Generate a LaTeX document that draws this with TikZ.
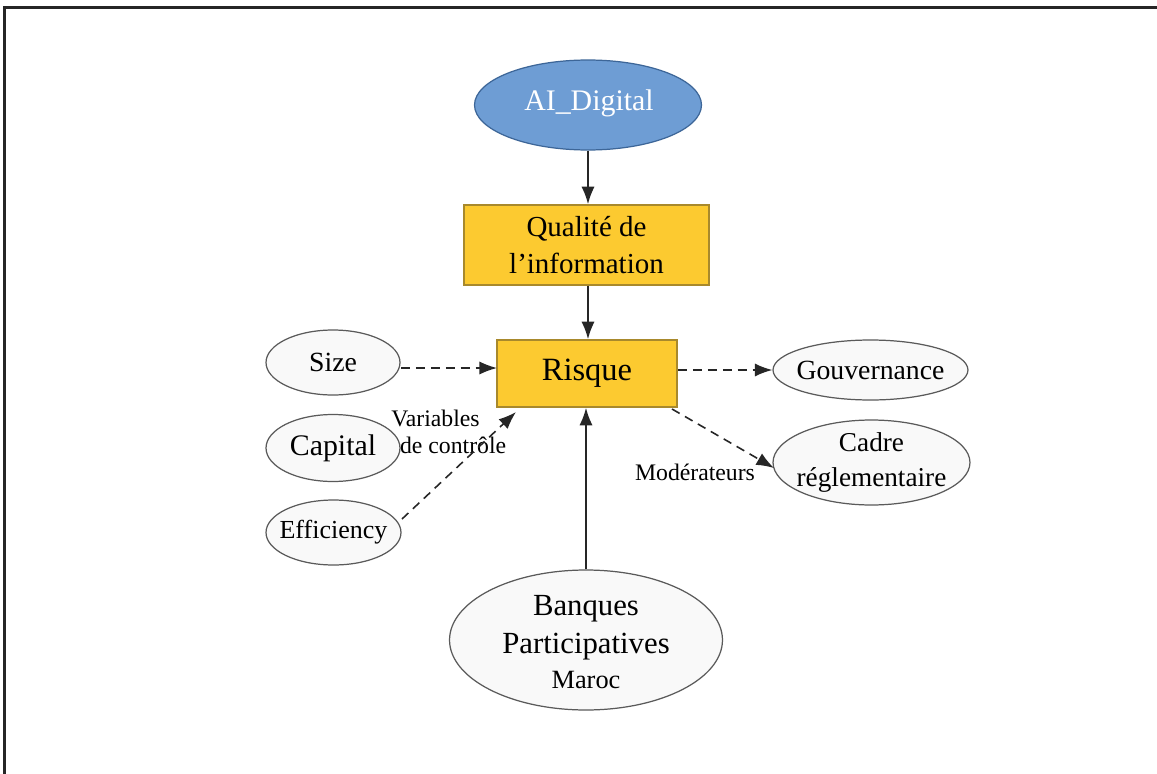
\documentclass[tikz,border=0pt]{standalone}
\usepackage{fontspec}
\setmainfont{Liberation Serif}
\usetikzlibrary{shapes.geometric,arrows.meta,calc}
\definecolor{aiblue}{HTML}{6E9DD4}
\definecolor{aiblueline}{HTML}{3D6698}
\definecolor{gold}{HTML}{FCCA30}
\definecolor{goldline}{HTML}{A8892C}
\definecolor{ellfill}{HTML}{F9F9F9}
\definecolor{ellline}{HTML}{5A5A5A}
\definecolor{arr}{HTML}{262626}
\tikzset{
  ovalnode/.style={ellipse, draw=ellline, line width=0.7pt, fill=ellfill, inner sep=0pt},
  ovaltext/.style={inner sep=0pt, align=center, text=black},
  boxnode/.style={rectangle, draw=goldline, line width=0.8pt, fill=gold, inner sep=0pt, align=center},
  solidarrow/.style={draw=arr, line width=1.1pt, -{Latex[length=10pt,width=7.5pt]}},
  dasharrow/.style={draw=arr, line width=0.9pt, dash pattern=on 5pt off 3.5pt, -{Latex[length=10pt,width=7.5pt]}},
  lbl/.style={inner sep=0pt, font=\fontsize{13.5pt}{15pt}\selectfont, align=left}
}
\begin{document}
\begin{tikzpicture}[x=0.02cm,y=-0.02cm]
\useasboundingbox (0,0) rectangle (1157,774);
\fill[white] (0,0) rectangle (1157,774);
\draw[line width=1.2pt, black!85] (4.5,774) -- (4.5,7.5) -- (1157,7.5);

\node[ellipse, draw=aiblueline, line width=0.7pt, fill=aiblue, minimum width=4.54cm, minimum height=1.8cm, inner sep=0pt] (ai) at (588,105) {};
\node[ovaltext, text=white, font=\fontsize{17pt}{20pt}\selectfont] (aitext) at (589,103) {AI\_Digital};

\node[boxnode, minimum width=4.9cm, minimum height=1.6cm, font=\fontsize{16.5pt}{21pt}\selectfont] (qual) at (586.5,245) {Qualité de\\l’information};

\node[boxnode, minimum width=3.6cm, minimum height=1.34cm, font=\fontsize{18.5pt}{22pt}\selectfont] (risque) at (587,373.5) {Risque};

\node[ovalnode, minimum width=2.68cm, minimum height=1.3cm] (size) at (333,362.5) {};
\node[ovaltext, font=\fontsize{15.8pt}{19pt}\selectfont] (sizetext) at (size) {Size};
\node[ovalnode, minimum width=2.68cm, minimum height=1.34cm] (capital) at (333,448) {};
\node[ovaltext, font=\fontsize{17pt}{20pt}\selectfont] (capitaltext) at (capital) {Capital};
\node[ovalnode, minimum width=2.7cm, minimum height=1.3cm] (eff) at (333.5,532.5) {};
\node[ovaltext, font=\fontsize{14.8pt}{18pt}\selectfont] (efftext) at (eff) {Efficiency};

\node[ovalnode, minimum width=3.9cm, minimum height=1.2cm] (gouv) at (870.5,370) {};
\node[ovaltext, font=\fontsize{15.8pt}{19pt}\selectfont] (gouvtext) at (gouv) {Gouvernance};
\node[ovalnode, minimum width=3.94cm, minimum height=1.7cm] (cadre) at (871.5,462.5) {};
\node[ovaltext, font=\fontsize{15.5pt}{20pt}\selectfont] (cadretext) at (cadre) {Cadre\\réglementaire};

\node[ovalnode, minimum width=5.46cm, minimum height=2.8cm] (banques) at (586,640) {};
\node[ovaltext, font=\fontsize{17.5pt}{22pt}\selectfont] (banquestext) at (586,642) {Banques\\Participatives\\[-2pt]{\fontsize{15pt}{18pt}\selectfont Maroc}};

\node[lbl, anchor=north west] (varlbl) at (391,410) {Variables\\\hspace*{5pt}de contrôle};
\node[lbl, anchor=center] (modlbl) at (695,472) {Modérateurs};

\coordinate (sizeout) at (401,368);
\coordinate (sizein) at (497,368);
\coordinate (gouvout) at (678,370);
\coordinate (effout) at (402,519);
\coordinate (effin) at (516,412);
\coordinate (riskout) at (672,409);
\coordinate (cadrein) at (774,468);

\draw[solidarrow] (ai.south) -- (ai.south |- qual.north);
\draw[solidarrow] (ai.south |- qual.south) -- (ai.south |- risque.north);
\draw[solidarrow] (banques.north) -- (banques.north |- risque.south);

\draw[dasharrow] (sizeout) -- (sizein);
\draw[dasharrow] (gouvout) -- (gouv.west);
\draw[dasharrow] (effout) -- (effin);
\draw[dasharrow] (riskout) -- (cadrein);
\end{tikzpicture}
\end{document}
